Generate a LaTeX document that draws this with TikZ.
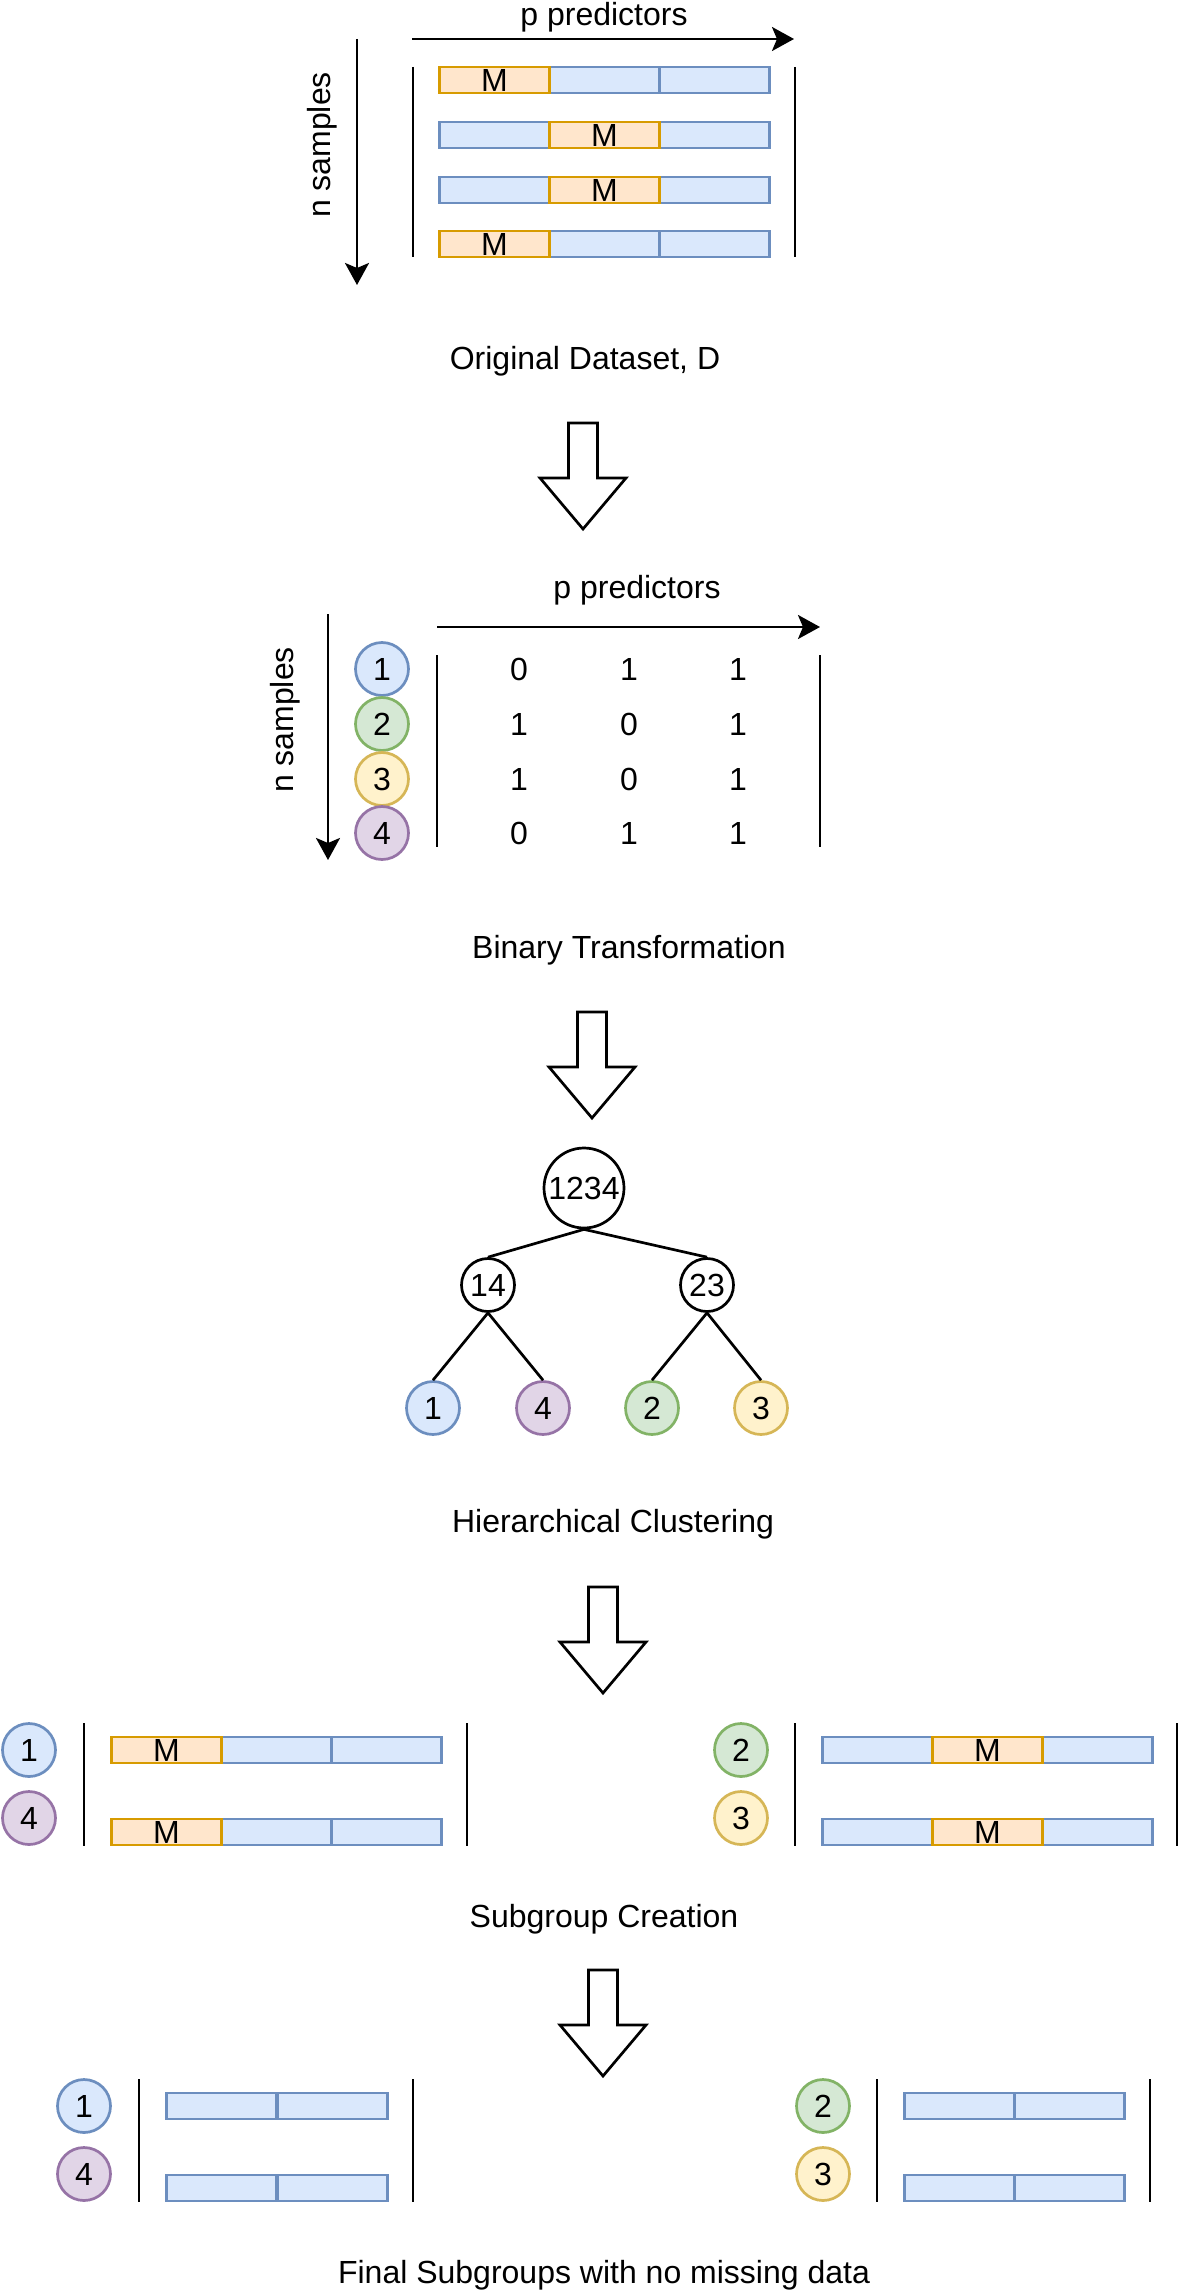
\documentclass[tikz,border=0pt]{standalone}
\usepackage{fontspec}
\setmainfont{Liberation Sans}
\usetikzlibrary{arrows.meta}
\definecolor{bfill}{HTML}{DAE8FC}
\definecolor{bline}{HTML}{6C8EBF}
\definecolor{ofill}{HTML}{FFE6CC}
\definecolor{oline}{HTML}{D79B00}
\definecolor{gfill}{HTML}{D5E8D4}
\definecolor{gline}{HTML}{82B366}
\definecolor{yfill}{HTML}{FFF2CC}
\definecolor{yline}{HTML}{D6B656}
\definecolor{pfill}{HTML}{E1D5E7}
\definecolor{pline}{HTML}{9673A6}
\tikzset{
  lw/.style={line width=2.7pt},
  txt/.style={font=\fontsize{32}{38}\selectfont, inner sep=0pt},
  title/.style={txt, anchor=base},
  bcell/.style={txt, draw=bline, fill=bfill, lw, minimum width=110pt, minimum height=26pt, anchor=west},
  mcell/.style={bcell, draw=oline, fill=ofill},
  circ/.style={txt, circle, lw, minimum size=53pt, inner sep=0pt},
  cblue/.style={circ, draw=bline, fill=bfill},
  cgreen/.style={circ, draw=gline, fill=gfill},
  cyellow/.style={circ, draw=yline, fill=yfill},
  cpurple/.style={circ, draw=pline, fill=pfill},
  tnode/.style={circ, draw=black, fill=white},
  axis/.style={lw, -{Stealth[length=22pt,width=24pt,inset=5pt]}},
  bar/.style={lw},
  blockarrow/.pic={\draw[lw, line join=miter, fill=white] (-14.5,0) -- (14.5,0) -- (14.5,55) -- (43,55) -- (0,106) -- (-43,55) -- (-14.5,55) -- cycle;}
}
\begin{document}
\begin{tikzpicture}[x=1pt,y=-1pt]
\fill[white] (0,0) rectangle (1180,2290);
\useasboundingbox (0,0) rectangle (1180,2290);

% ---------- Section 1: original dataset ----------
\node[title] (pp1) at (604,26) {p predictors};
\coordinate (h1s) at (412,39); \coordinate (h1e) at (794,39);
\draw[axis] (h1s) -- (h1e);
\coordinate (v1s) at (357,39); \coordinate (v1e) at (357,285);
\draw[axis] (v1s) -- (v1e);
\node[title, rotate=90] (ns1) at (330,145) {n samples};
\draw[bar] (413,67) -- (413,257);
\draw[bar] (795,67) -- (795,257);
% row 1
\node[bcell] (d1b) at (548,80) {};
\node[bcell] (d1c) at (658,80) {};
\node[mcell] (d1a) at (438,80) {M};
% row 2
\node[bcell] (d2a) at (438,135) {};
\node[bcell] (d2c) at (658,135) {};
\node[mcell] (d2b) at (548,135) {M};
% row 3
\node[bcell] (d3a) at (438,190) {};
\node[bcell] (d3c) at (658,190) {};
\node[mcell] (d3b) at (548,190) {M};
% row 4
\node[bcell] (d4b) at (548,244) {};
\node[bcell] (d4c) at (658,244) {};
\node[mcell] (d4a) at (438,244) {M};
\node[title] (t1) at (585,369) {Original Dataset, D};

\pic at (583,423) {blockarrow};

% ---------- Section 2: binary transformation ----------
\node[title] (pp2) at (637,598) {p predictors};
\coordinate (h2s) at (437,627); \coordinate (h2e) at (820,627);
\draw[axis] (h2s) -- (h2e);
\coordinate (v2s) at (328,614); \coordinate (v2e) at (328,860);
\draw[axis] (v2s) -- (v2e);
\node[title, rotate=90] (ns2) at (293,720) {n samples};
\node[cblue] (b1) at (382,669) {1};
\node[cgreen] (b2) at (382,724) {2};
\node[cyellow] (b3) at (382,779) {3};
\node[cpurple] (b4) at (382,833) {4};
\draw[bar] (437,655) -- (437,847);
\draw[bar] (820,655) -- (820,847);
\node[txt] (m11) at (519,669) {0}; \node[txt] (m12) at (629,669) {1}; \node[txt] (m13) at (738,669) {1};
\node[txt] (m21) at (519,724) {1}; \node[txt] (m22) at (629,724) {0}; \node[txt] (m23) at (738,724) {1};
\node[txt] (m31) at (519,779) {1}; \node[txt] (m32) at (629,779) {0}; \node[txt] (m33) at (738,779) {1};
\node[txt] (m41) at (519,833) {0}; \node[txt] (m42) at (629,833) {1}; \node[txt] (m43) at (738,833) {1};
\node[title] (t2) at (629,958) {Binary Transformation};

\pic at (592,1012) {blockarrow};

% ---------- Section 3: hierarchical clustering ----------
\node[tnode, minimum size=80pt] (n1234) at (584,1188) {1234};
\node[tnode] (n14) at (488,1285) {14};
\node[tnode] (n23) at (707,1285) {23};
\node[cblue] (l1) at (433,1408) {1};
\node[cpurple] (l4) at (543,1408) {4};
\node[cgreen] (l2) at (652,1408) {2};
\node[cyellow] (l3) at (761,1408) {3};
\draw[lw] (n1234.south) -- (n14.north);
\draw[lw] (n1234.south) -- (n23.north);
\draw[lw] (n14.south) -- (l1.north);
\draw[lw] (n14.south) -- (l4.north);
\draw[lw] (n23.south) -- (l2.north);
\draw[lw] (n23.south) -- (l3.north);
\node[title] (t3) at (613,1532) {Hierarchical Clustering};

\pic at (603,1587) {blockarrow};

% ---------- Section 4: subgroup creation ----------
\node[cblue] (s1) at (29,1750) {1};
\node[cpurple] (s4) at (29,1818) {4};
\draw[bar] (84,1723) -- (84,1846);
\draw[bar] (467,1723) -- (467,1846);
\node[bcell] (e1b) at (220,1750) {};
\node[bcell] (e1c) at (330,1750) {};
\node[mcell] (e1a) at (110,1750) {M};
\node[bcell] (e2b) at (220,1832) {};
\node[bcell] (e2c) at (330,1832) {};
\node[mcell] (e2a) at (110,1832) {M};

\node[cgreen] (s2) at (741,1750) {2};
\node[cyellow] (s3) at (741,1818) {3};
\draw[bar] (795,1723) -- (795,1846);
\draw[bar] (1177,1723) -- (1177,1846);
\node[bcell] (f1a) at (821,1750) {};
\node[bcell] (f1c) at (1041,1750) {};
\node[mcell] (f1b) at (931,1750) {M};
\node[bcell] (f2a) at (821,1832) {};
\node[bcell] (f2c) at (1041,1832) {};
\node[mcell] (f2b) at (931,1832) {M};
\node[title] (t4) at (604,1927) {Subgroup Creation};

\pic at (603,1970) {blockarrow};

% ---------- Section 5: final subgroups ----------
\node[cblue] (u1) at (84,2106) {1};
\node[cpurple] (u4) at (84,2174) {4};
\draw[bar] (139,2079) -- (139,2202);
\draw[bar] (413,2079) -- (413,2202);
\node[bcell] (g1a) at (165,2106) {};
\node[bcell] (g1b) at (276,2106) {};
\node[bcell] (g2a) at (165,2188) {};
\node[bcell] (g2b) at (276,2188) {};

\node[cgreen] (u2) at (823,2106) {2};
\node[cyellow] (u3) at (823,2174) {3};
\draw[bar] (877,2079) -- (877,2202);
\draw[bar] (1150,2079) -- (1150,2202);
\node[bcell] (k1a) at (903,2106) {};
\node[bcell] (k1b) at (1013,2106) {};
\node[bcell] (k2a) at (903,2188) {};
\node[bcell] (k2b) at (1013,2188) {};
\node[title] (t5) at (604,2283) {Final Subgroups with no missing data};
\end{tikzpicture}
\end{document}
